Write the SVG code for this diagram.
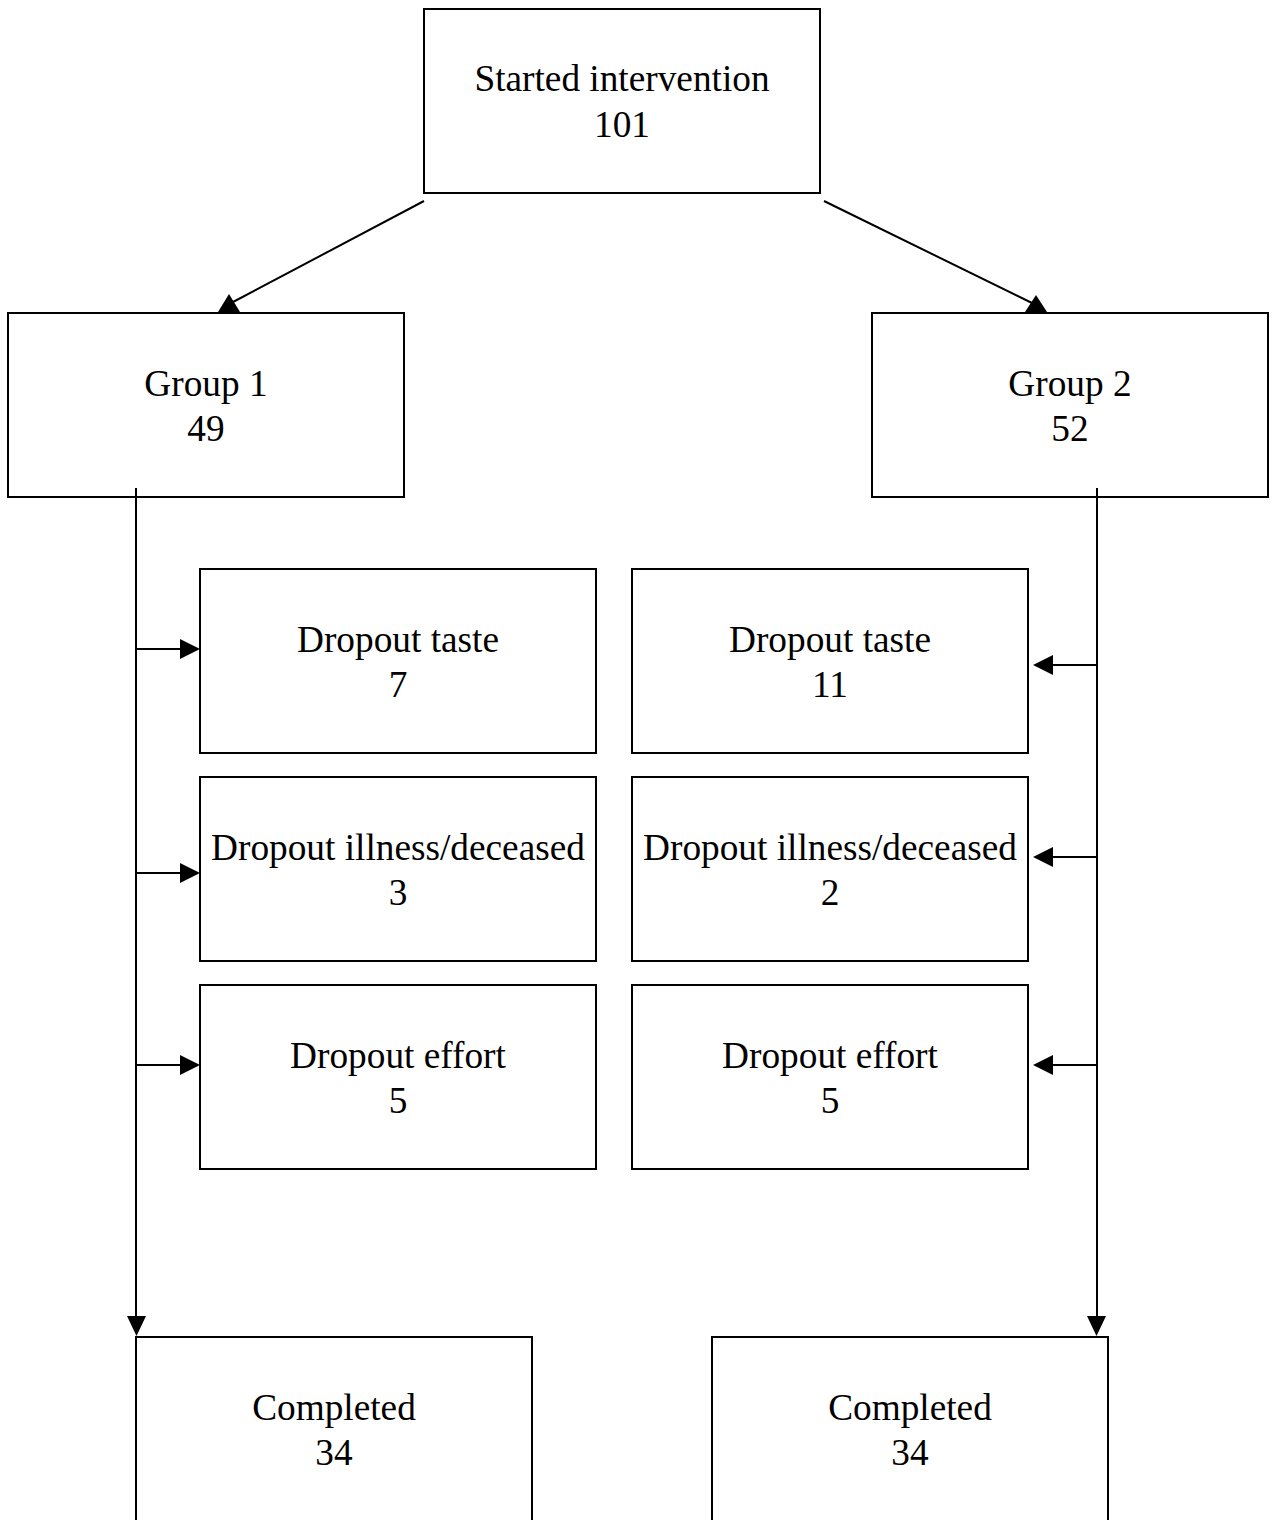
<svg xmlns="http://www.w3.org/2000/svg" width="1278" height="1520" viewBox="0 0 1278 1520">
  <style>
    .box { fill: #ffffff; stroke: #000000; stroke-width: 2; }
    .lbl { font-family: "Liberation Serif", "Times New Roman", serif; font-size: 37.3px; fill: #000000; text-anchor: middle; }
    .ln { stroke: #000000; stroke-width: 2; fill: none; }
    .head { fill: #000000; stroke: none; }
  </style>
  <rect width="1278" height="1520" fill="#ffffff"/>

  <g id="connectors">
    <!-- start to groups -->
    <line class="ln" x1="424" y1="201" x2="233" y2="302"/>
    <polygon class="head" points="229,294 240,312 218,312"/>
    <line class="ln" x1="824" y1="201" x2="1032" y2="303"/>
    <polygon class="head" points="1036,295 1047,312 1025,312"/>

    <!-- group 1 trunk -->
    <line class="ln" x1="136" y1="488" x2="136" y2="1318"/>
    <polygon class="head" points="127,1316 146,1316 136.5,1336"/>
    <line class="ln" x1="136" y1="649" x2="182" y2="649"/>
    <polygon class="head" points="180,639 180,659 200,649"/>
    <line class="ln" x1="136" y1="873" x2="182" y2="873"/>
    <polygon class="head" points="180,863 180,883 200,873"/>
    <line class="ln" x1="136" y1="1065" x2="182" y2="1065"/>
    <polygon class="head" points="180,1055 180,1075 200,1065"/>

    <!-- group 2 trunk -->
    <line class="ln" x1="1097" y1="488" x2="1097" y2="1318"/>
    <polygon class="head" points="1087,1316 1106,1316 1096.5,1336"/>
    <line class="ln" x1="1097" y1="665" x2="1051" y2="665"/>
    <polygon class="head" points="1053,655 1053,675 1033,665"/>
    <line class="ln" x1="1097" y1="857" x2="1051" y2="857"/>
    <polygon class="head" points="1053,847 1053,867 1033,857"/>
    <line class="ln" x1="1097" y1="1065" x2="1051" y2="1065"/>
    <polygon class="head" points="1053,1055 1053,1075 1033,1065"/>
  </g>

  <g id="start">
    <rect class="box" x="424" y="9" width="396" height="184"/>
    <text class="lbl" x="622" y="91">Started intervention</text>
    <text class="lbl" x="622" y="137">101</text>
  </g>

  <g id="group1">
    <rect class="box" x="8" y="313" width="396" height="184" fill-opacity="0"/>
    <text class="lbl" x="206" y="396">Group 1</text>
    <text class="lbl" x="206" y="441">49</text>
  </g>
  <g id="group2">
    <rect class="box" x="872" y="313" width="396" height="184" fill-opacity="0"/>
    <text class="lbl" x="1070" y="396">Group 2</text>
    <text class="lbl" x="1070" y="441">52</text>
  </g>

  <g id="g1-taste">
    <rect class="box" x="200" y="569" width="396" height="184"/>
    <text class="lbl" x="398" y="652">Dropout taste</text>
    <text class="lbl" x="398" y="697">7</text>
  </g>
  <g id="g1-illness">
    <rect class="box" x="200" y="777" width="396" height="184"/>
    <text class="lbl" x="398" y="860">Dropout illness/deceased</text>
    <text class="lbl" x="398" y="905">3</text>
  </g>
  <g id="g1-effort">
    <rect class="box" x="200" y="985" width="396" height="184"/>
    <text class="lbl" x="398" y="1068">Dropout effort</text>
    <text class="lbl" x="398" y="1113">5</text>
  </g>

  <g id="g2-taste">
    <rect class="box" x="632" y="569" width="396" height="184"/>
    <text class="lbl" x="830" y="652">Dropout taste</text>
    <text class="lbl" x="830" y="697">11</text>
  </g>
  <g id="g2-illness">
    <rect class="box" x="632" y="777" width="396" height="184"/>
    <text class="lbl" x="830" y="860">Dropout illness/deceased</text>
    <text class="lbl" x="830" y="905">2</text>
  </g>
  <g id="g2-effort">
    <rect class="box" x="632" y="985" width="396" height="184"/>
    <text class="lbl" x="830" y="1068">Dropout effort</text>
    <text class="lbl" x="830" y="1113">5</text>
  </g>

  <g id="g1-completed">
    <rect class="box" x="136" y="1337" width="396" height="200" fill-opacity="0"/>
    <text class="lbl" x="334" y="1420">Completed</text>
    <text class="lbl" x="334" y="1465">34</text>
  </g>
  <g id="g2-completed">
    <rect class="box" x="712" y="1337" width="396" height="200" fill-opacity="0"/>
    <text class="lbl" x="910" y="1420">Completed</text>
    <text class="lbl" x="910" y="1465">34</text>
  </g>
</svg>
